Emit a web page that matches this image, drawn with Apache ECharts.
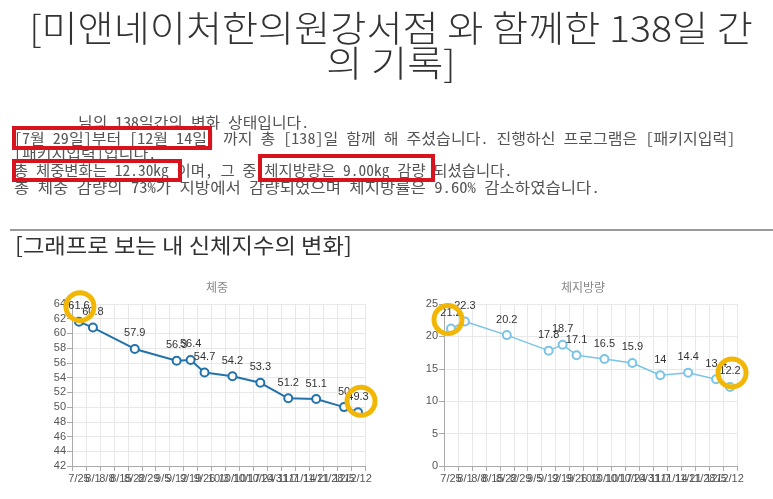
<!DOCTYPE html>
<html>
<head>
<meta charset="utf-8">
<script src="https://cdn.jsdelivr.net/npm/echarts@6/dist/echarts.min.js"></script>
<style>
  html, body { margin: 0; padding: 0; background: #fff; }
  #main { width: 773px; height: 499px; }
</style>
</head>
<body>
<div id="main"></div>
<script>
// 날짜 (주 단위 카테고리)
var dates = ['7/25', '8/1', '8/8', '8/15', '8/22', '8/29', '9/5', '9/12', '9/19', '9/26', '10/3',
    '10/10', '10/17', '10/24', '10/31', '11/7', '11/14', '11/21', '11/28', '12/5', '12/12'];
// 체중 (측정 안 한 주는 null)
var weight = [61.6, 60.8, null, null, 57.9, null, null, 56.3, 56.4, 54.7, null,
    54.2, null, 53.3, null, 51.2, null, 51.1, null, 50, 49.3];
// 체지방량
var fat = [21.2, 22.3, null, null, 20.2, null, null, 17.8, 18.7, 17.1, null,
    16.5, null, 15.9, null, 14, null, 14.4, null, 13.4, 12.2];
// 눈금
var weightTicks = [42, 64, 2];
var fatTicks = [0, 25, 5];

var FONT = 'Noto Sans CJK KR';
var MONO = '"Noto Sans Mono CJK KR", "Noto Sans CJK KR"';
var YELLOW = '#f2b705';
var RED = '#d7131d';

var chart = echarts.init(document.getElementById('main'));

function xAxisOf(idx) {
    return {
        type: 'category',
        gridIndex: idx,
        data: dates,
        boundaryGap: true,
        axisLine: { lineStyle: { color: '#aaa' } },
        axisTick: { show: true, interval: 0, lineStyle: { color: '#aaa' } },
        axisLabel: { interval: 0, fontSize: 11, color: '#555', margin: 7, fontFamily: 'Arial' },
        splitLine: { show: true, interval: 0, lineStyle: { color: '#e8e8e8' } }
    };
}

function yAxisOf(idx, t) {
    return {
        type: 'value',
        gridIndex: idx,
        min: t[0],
        max: t[1],
        interval: t[2],
        axisLine: { show: true, lineStyle: { color: '#aaa' } },
        axisTick: { show: true, lineStyle: { color: '#aaa' } },
        axisLabel: { fontSize: 11, color: '#555', margin: 6, fontFamily: 'Arial' },
        splitLine: { lineStyle: { color: '#e8e8e8' } }
    };
}

// 노란 동그라미 표시
function ring(idx, val, off) {
    return {
        coord: [idx, val],
        symbol: 'circle',
        symbolSize: 28,
        symbolOffset: off,
        itemStyle: { color: 'rgba(0,0,0,0)', borderColor: YELLOW, borderWidth: 5 },
        label: { show: false }
    };
}

function lineSeries(idx, data, color, width, rings) {
    return {
        type: 'line',
        xAxisIndex: idx,
        yAxisIndex: idx,
        data: data,
        connectNulls: true,
        symbol: 'emptyCircle',
        symbolSize: 8,
        lineStyle: { color: color, width: width },
        itemStyle: { color: color, borderWidth: 1.5 },
        label: { show: true, position: 'top', fontSize: 11, color: '#333', distance: 5, fontFamily: 'Arial' },
        markPoint: { z: 10, silent: true, data: rings },
        animation: false
    };
}

// 텍스트 (sx: 가로 늘림)
function txt(x, y, s, size, color, sx, opt) {
    var o = {
        type: 'text',
        x: x,
        y: y,
        scaleX: sx,
        style: {
            text: s,
            fontSize: size,
            fontFamily: FONT,
            fill: color,
            align: 'left',
            verticalAlign: 'middle'
        }
    };
    if (opt) {
        for (var k in opt) o.style[k] = opt[k];
    }
    return o;
}

function box(x, y, w, h) {
    return {
        type: 'rect',
        z: 20,
        shape: { x: x, y: y, width: w, height: h },
        style: { fill: 'none', stroke: RED, lineWidth: 4 }
    };
}

var M = { fontFamily: MONO };

var option = {
    backgroundColor: '#fff',
    animation: false,
    title: [
        { text: '체중', left: 212, top: 276, textAlign: 'center',
          textStyle: { fontSize: 12, color: '#888', fontWeight: 'normal', fontFamily: FONT } },
        { text: '체지방량', left: 578, top: 276, textAlign: 'center',
          textStyle: { fontSize: 12, color: '#888', fontWeight: 'normal', fontFamily: FONT } }
    ],
    grid: [
        { left: 72, top: 304, width: 293, height: 162 },
        { left: 444, top: 304, width: 293, height: 162 }
    ],
    xAxis: [xAxisOf(0), xAxisOf(1)],
    yAxis: [yAxisOf(0, weightTicks), yAxisOf(1, fatTicks)],
    series: [
        lineSeries(0, weight, '#2372aa', 2, [
            ring(0, weight[0], [1, -15]),
            ring(20, weight[20], [3, -11])
        ]),
        lineSeries(1, fat, '#7cc4e6', 1.5, [
            ring(0, fat[0], [-3, -9]),
            ring(20, fat[20], [2, -14])
        ])
    ],
    graphic: [
        txt(391, 28, '[미앤네이처한의원강서점 와 함께한 138일 간', 36, '#333', 1.09, { align: 'center', fontWeight: 300 }),
        txt(391, 63, '의 기록]', 36, '#333', 1.09, { align: 'center', fontWeight: 300 }),

        txt(78, 122, '님의 138일간의 변화 상태입니다.', 15, '#555', 1.06, M),
        txt(14, 138, '[7월 29일]부터 [12월 14일] 까지 총 [138]일 함께 해 주셨습니다. 진행하신 프로그램은 [패키지입력]', 15, '#555', 1.07, M),
        txt(14, 153, '[패키지입력]입니다.', 15, '#555', 1.07, M),
        txt(14, 170, '총 체중변화는 12.30kg 이며, 그 중 체지방량은 9.00kg 감량 되셨습니다.', 15, '#555', 1.03, M),
        txt(14, 187, '총 체중 감량의 73%가 지방에서 감량되었으며 체지방률은 9.60% 감소하였습니다.', 15, '#555', 1.11, M),

        box(14, 128, 196, 20),
        box(14, 161, 166, 19),
        box(260, 156, 173, 24),

        {
            type: 'line',
            shape: { x1: 10, y1: 230, x2: 773, y2: 230 },
            style: { stroke: '#999', lineWidth: 2 }
        },
        txt(15, 245, '[그래프로 보는 내 신체지수의 변화]', 21, '#333', 1.11)
    ]
};

chart.setOption(option);
</script>
</body>
</html>
